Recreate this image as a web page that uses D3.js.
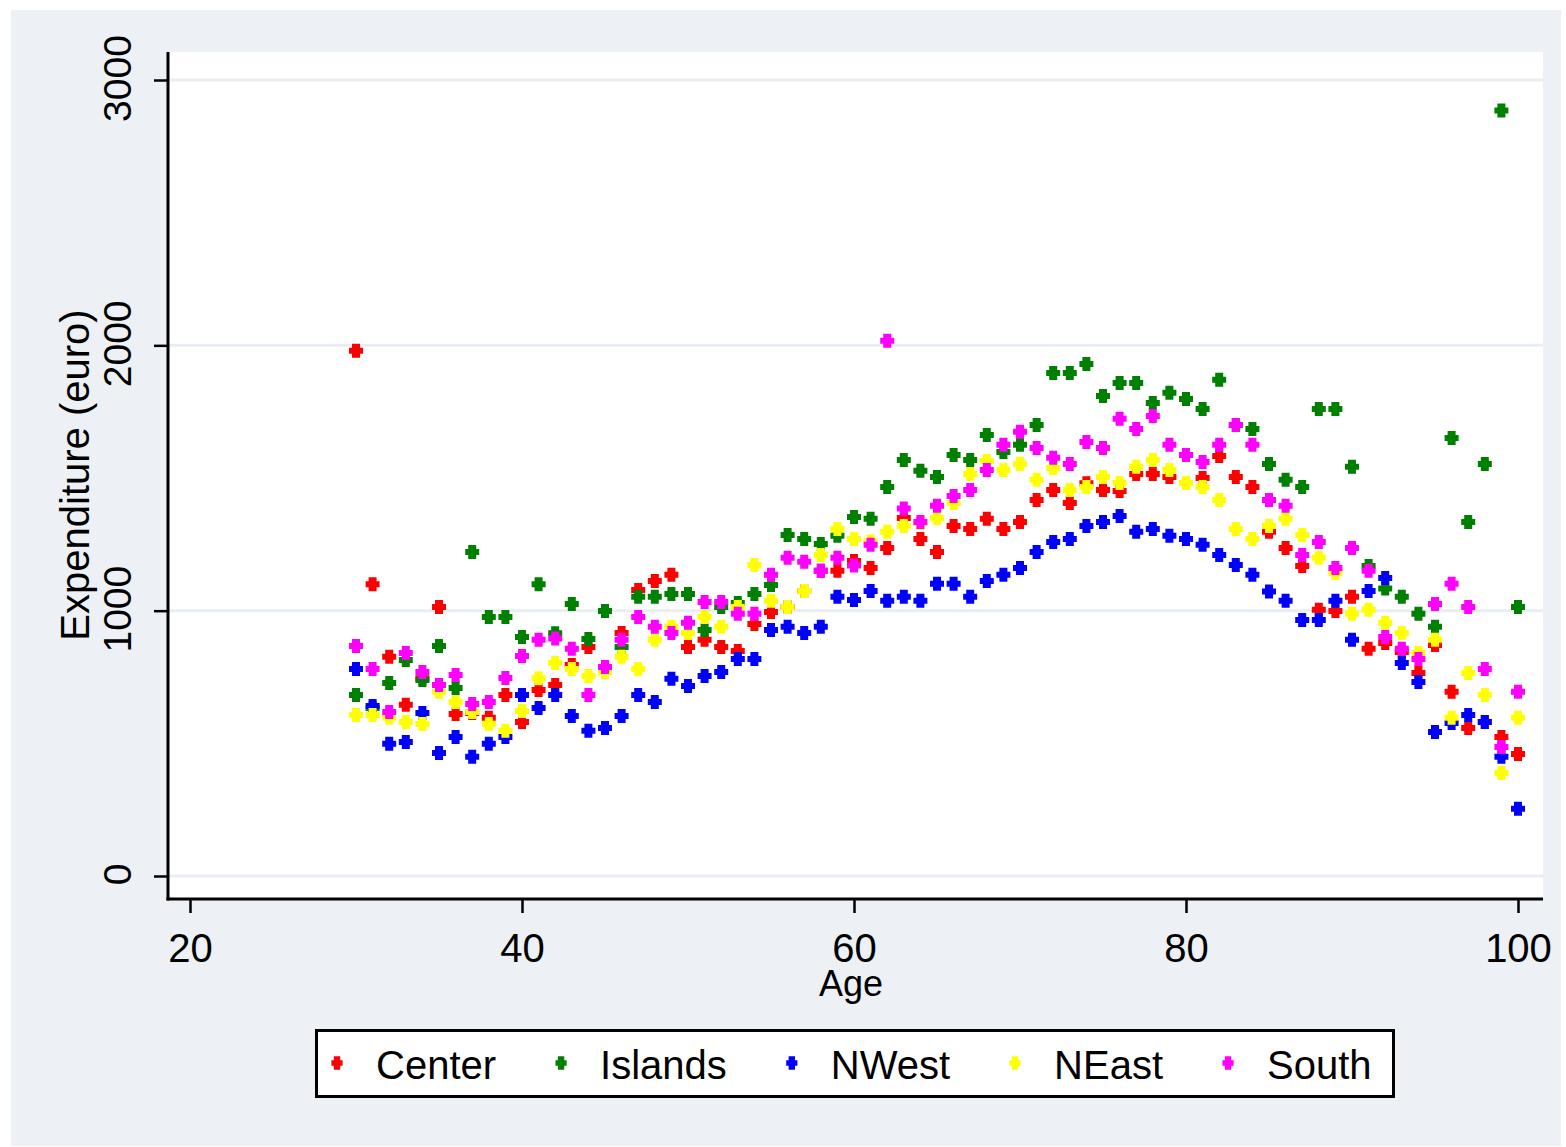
<!DOCTYPE html>
<html>
<head>
<meta charset="utf-8">
<script src="https://cdn.jsdelivr.net/npm/d3@7"></script>
<style>
  html, body { margin: 0; padding: 0; background: #ffffff; }
  svg { display: block; }
  text { font-family: "Liberation Sans", Arial, sans-serif; fill: #000; }
</style>
</head>
<body>
<svg id="chart" width="1566" height="1147"></svg>
<script>
// Mean expenditure (euro) by age, per macro-region
const ages = [30,31,32,33,34,35,36,37,38,39,40,41,42,43,44,45,46,47,48,49,
  50,51,52,53,54,55,56,57,58,59,60,61,62,63,64,65,66,67,68,69,
  70,71,72,73,74,75,76,77,78,79,80,81,82,83,84,85,86,87,88,89,
  90,91,92,93,94,95,96,97,98,99,100];

const center = [1980,1100,826,645,745,1014,611,614,596,682,580,701,720,795,863,780,916,1078,1112,1135,
  863,890,863,848,950,995,1014,1074,1150,1150,1187,1161,1236,1349,1270,1221,1319,1308,1346,1308,
  1334,1417,1455,1406,1480,1455,1451,1515,1515,1504,1481,1500,1583,1504,1466,1297,1236,1168,1003,999,
  1052,856,878,844,765,871,694,558,580,524,460];

const islands = [682,633,727,814,739,867,709,1221,976,976,901,1100,915,1025,893,999,863,1052,1052,1063,
  1063,927,1014,1029,1063,1097,1285,1270,1251,1282,1353,1346,1466,1568,1527,1504,1587,1568,1662,1598,
  1625,1700,1896,1896,1930,1809,1858,1858,1783,1821,1798,1760,1870,1700,1685,1553,1493,1466,1760,1760,
  1542,1168,1084,1052,988,939,1651,1334,1553,2885,1014];

const nwest = [780,641,498,505,614,464,524,449,498,524,682,633,682,603,547,558,603,682,656,743,
  716,754,769,818,818,927,939,916,939,1052,1040,1074,1037,1052,1037,1101,1101,1052,1112,1135,
  1161,1221,1259,1270,1319,1334,1357,1297,1308,1282,1270,1248,1210,1172,1135,1072,1037,965,965,1037,
  890,1074,1123,803,731,543,577,607,580,449,253];

const neast = [607,607,596,580,573,694,656,618,573,547,622,745,803,780,754,769,826,780,890,939,
  916,976,939,1014,1172,1037,1014,1074,1210,1308,1270,1262,1297,1319,1330,1349,1406,1515,1564,1530,
  1553,1493,1538,1455,1466,1504,1481,1542,1568,1530,1481,1466,1417,1308,1270,1319,1346,1285,1199,1142,
  988,1003,954,916,840,890,596,765,682,388,596];

const south = [867,780,618,840,769,720,758,648,656,746,829,890,895,856,682,788,890,976,939,916,
  954,1033,1033,988,988,1135,1199,1184,1150,1199,1170,1248,2017,1385,1334,1395,1432,1455,1530,1625,
  1674,1613,1576,1553,1636,1613,1723,1685,1734,1625,1587,1560,1625,1700,1625,1417,1395,1210,1259,1161,
  1236,1150,901,856,818,1025,1101,1014,780,486,694];

const seriesNames = ["Center", "Islands", "NWest", "NEast", "South"];
const seriesValues = [center, islands, nwest, neast, south];
const seriesColors = ["#ff0000", "#008000", "#0000ff", "#ffff00", "#ff00ff"];

const xTicks = [20, 40, 60, 80, 100];
const yTicks = [0, 1000, 2000, 3000];

// Layout
const bg = "#edf1f6";
const plot = { left: 168, right: 1543, top: 52, bottom: 899 };

const x = d3.scaleLinear().domain([20, 100]).range([190, 1518]);
const y = d3.scaleLinear().domain([0, 3000]).range([876, 80]);

const svg = d3.select("#chart");

// Graph region and plot region
svg.append("rect").attr("x", 11).attr("y", 10).attr("width", 1550).attr("height", 1136).attr("fill", bg);
svg.append("rect").attr("x", plot.left).attr("y", plot.top)
  .attr("width", plot.right - plot.left).attr("height", plot.bottom - plot.top).attr("fill", "#ffffff");

// Horizontal grid lines
svg.append("g").selectAll("line").data(yTicks).join("line")
  .attr("x1", plot.left).attr("x2", plot.right)
  .attr("y1", d => y(d)).attr("y2", d => y(d))
  .attr("stroke", "#e9eef4").attr("stroke-width", 3);

// Chunky plus-shaped marker
const plusMarker = {
  draw(ctx, size) {
    const s = Math.sqrt(size) / 14;
    const a = 7 * s, b = 4 * s, c = 3 * s;
    ctx.moveTo(-b, -a); ctx.lineTo(b, -a); ctx.lineTo(b, -c); ctx.lineTo(a, -c);
    ctx.lineTo(a, c); ctx.lineTo(b, c); ctx.lineTo(b, a); ctx.lineTo(-b, a);
    ctx.lineTo(-b, c); ctx.lineTo(-a, c); ctx.lineTo(-a, -c); ctx.lineTo(-b, -c);
    ctx.closePath();
  }
};
const markerPath = d3.symbol().type(plusMarker).size(14 * 14)();

// Points, one layer per region
seriesValues.forEach((vals, i) => {
  svg.append("g").attr("class", "series")
    .selectAll("path").data(ages.map((a, k) => [a, vals[k]])).join("path")
    .attr("d", markerPath)
    .attr("transform", d => `translate(${x(d[0])},${y(d[1])})`)
    .attr("fill", seriesColors[i]);
});

// Axes
const xAxis = d3.axisBottom(x).tickValues(xTicks).tickFormat(d3.format("d"))
  .tickSize(14).tickPadding(0).tickSizeOuter(0);
const gx = svg.append("g").attr("transform", `translate(0,${plot.bottom})`).call(xAxis);
gx.select(".domain").remove();
gx.selectAll(".tick line").attr("stroke", "#000").attr("stroke-width", 2.5);
gx.selectAll(".tick text").attr("y", 63).attr("dy", null)
  .style("font-size", "40px").attr("fill", "#000");

const yAxis = d3.axisLeft(y).tickValues(yTicks).tickFormat(d3.format("d"))
  .tickSize(14).tickPadding(0).tickSizeOuter(0);
const gy = svg.append("g").attr("transform", `translate(${plot.left},0)`).call(yAxis);
gy.select(".domain").remove();
gy.selectAll(".tick line").attr("stroke", "#000").attr("stroke-width", 2.5);
gy.selectAll(".tick text")
  .attr("x", null).attr("dy", null).attr("y", null)
  .attr("text-anchor", "middle")
  .attr("transform", "translate(-37,-2) rotate(-90)")
  .style("font-size", "39px").attr("fill", "#000");

// Axis lines
svg.append("line").attr("x1", plot.left).attr("x2", plot.left)
  .attr("y1", plot.top).attr("y2", plot.bottom + 1.5)
  .attr("stroke", "#000").attr("stroke-width", 3);
svg.append("line").attr("x1", plot.left - 1.5).attr("x2", plot.right)
  .attr("y1", plot.bottom).attr("y2", plot.bottom)
  .attr("stroke", "#000").attr("stroke-width", 3);

// Axis titles
svg.append("text").attr("x", 851).attr("y", 996).attr("text-anchor", "middle")
  .style("font-size", "36px").text("Age");
svg.append("text").attr("transform", "translate(89,475) rotate(-90)")
  .attr("text-anchor", "middle").style("font-size", "40px").text("Expenditure (euro)");

// Legend
const legend = svg.append("g");
legend.append("rect").attr("x", 316.5).attr("y", 1030.5).attr("width", 1077).attr("height", 66)
  .attr("fill", "#fff").attr("stroke", "#000").attr("stroke-width", 3);
let lx = 337;
seriesNames.forEach((name, i) => {
  legend.append("path").attr("d", markerPath)
    .attr("transform", `translate(${lx},1063) scale(0.8,0.95)`)
    .attr("fill", seriesColors[i]);
  const t = legend.append("text").attr("x", lx + 39).attr("y", 1079)
    .style("font-size", "40px").text(name);
  lx = lx + 39 + t.node().getComputedTextLength() + 65;
});
</script>
</body>
</html>
